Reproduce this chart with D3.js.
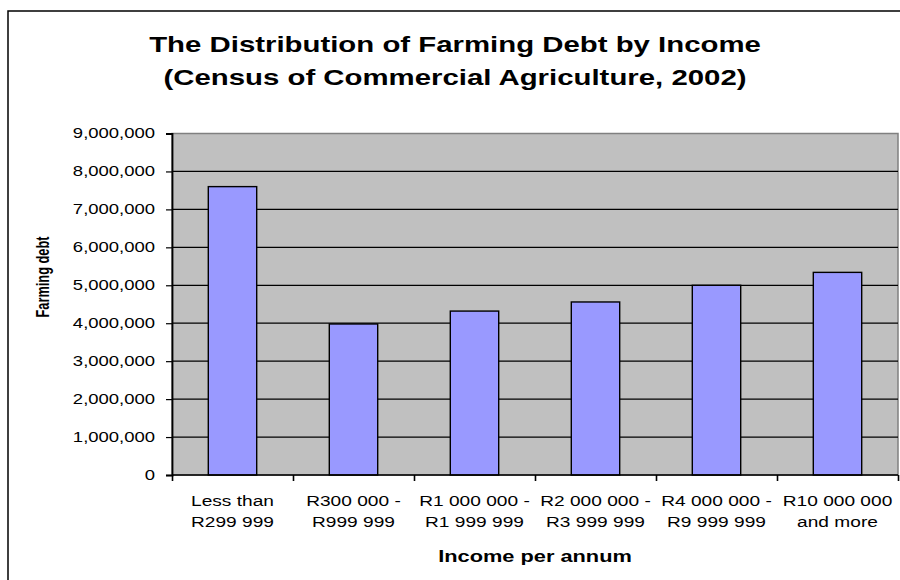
<!DOCTYPE html>
<html>
<head>
<meta charset="utf-8">
<script src="https://cdn.jsdelivr.net/npm/d3@7"></script>
<style>
  body { margin: 0; background: #fff; }
  svg { display: block; font-family: "Liberation Sans", Arial, sans-serif; }
</style>
</head>
<body>
<div id="chart"></div>
<script>
// data
const categories = [
  ["Less than", "R299 999"],
  ["R300 000 -", "R999 999"],
  ["R1 000 000 -", "R1 999 999"],
  ["R2 000 000 -", "R3 999 999"],
  ["R4 000 000 -", "R9 999 999"],
  ["R10 000 000", "and more"]
];
const debt = [7600000, 3980000, 4320000, 4560000, 5000000, 5340000];
const yTicks = [0, 1000000, 2000000, 3000000, 4000000, 5000000, 6000000, 7000000, 8000000, 9000000];
const titleLines = ["The Distribution of Farming Debt by Income", "(Census of Commercial Agriculture, 2002)"];

const width = 900, height = 580;
const plot = { left: 172, top: 133.5, right: 898, bottom: 475 };
const innerW = plot.right - plot.left;
const innerH = plot.bottom - plot.top;
const sx = 1.32; // the source picture is squashed vertically, so text reads wide

const svg = d3.select("#chart").append("svg")
  .attr("width", width)
  .attr("height", height);

// outer chart frame (right/bottom edges fall outside the picture)
svg.append("rect")
  .attr("x", 8).attr("y", 11)
  .attr("width", 920).attr("height", 600)
  .attr("fill", "#fff")
  .attr("stroke", "#000")
  .attr("stroke-width", 1.5);

// title
svg.append("g").selectAll("text")
  .data(titleLines)
  .enter()
  .append("text")
  .attr("transform", (d, i) => `translate(455,${52 + i * 33}) scale(1.335,1)`)
  .attr("text-anchor", "middle")
  .attr("font-size", 22)
  .attr("font-weight", "bold")
  .text(d => d);

const g = svg.append("g")
  .attr("transform", `translate(${plot.left},${plot.top})`);

const x = d3.scaleBand()
  .domain(d3.range(categories.length))
  .range([0, innerW])
  .paddingInner(0.6)
  .paddingOuter(0.3);

const y = d3.scaleLinear()
  .domain([0, 9000000])
  .range([innerH, 0]);

// plot area
g.append("rect")
  .attr("width", innerW)
  .attr("height", innerH)
  .attr("fill", "#C0C0C0")
  .attr("stroke", "#808080")
  .attr("stroke-width", 1.5);

// gridlines
g.selectAll(".grid")
  .data(yTicks.filter(d => d > 0 && d < 9000000))
  .enter()
  .append("line")
  .attr("x1", 0).attr("x2", innerW)
  .attr("y1", d => y(d)).attr("y2", d => y(d))
  .attr("stroke", "#000")
  .attr("stroke-width", 1.2);

// bars
g.selectAll(".bar")
  .data(debt)
  .enter()
  .append("rect")
  .attr("x", (d, i) => x(i))
  .attr("y", d => y(d))
  .attr("width", x.bandwidth())
  .attr("height", d => innerH - y(d))
  .attr("fill", "#9999FF")
  .attr("stroke", "#000")
  .attr("stroke-width", 1.4);

// y axis
const yAxis = g.append("g")
  .call(d3.axisLeft(y).tickValues(yTicks).tickSize(6).tickPadding(11).tickFormat(d3.format(",")));
yAxis.select(".domain").attr("stroke", "#000").attr("stroke-width", 1.8);
yAxis.selectAll(".tick line").attr("stroke", "#000").attr("stroke-width", 1.2);
yAxis.selectAll("text")
  .attr("x", -17 / sx)
  .attr("transform", `scale(${sx},1)`)
  .attr("font-size", 14)
  .attr("font-family", "Liberation Sans, Arial, sans-serif")
  .attr("fill", "#000");

// x axis: ticks at category boundaries
const xEdge = d3.scaleLinear().domain([0, categories.length]).range([0, innerW]);
const xAxis = g.append("g")
  .attr("transform", `translate(0,${innerH})`)
  .call(d3.axisBottom(xEdge).tickValues(d3.range(categories.length + 1)).tickSize(6).tickFormat(""));
xAxis.select(".domain").attr("stroke", "#000").attr("stroke-width", 1.5).attr("d", `M0,0H${innerW}`);
xAxis.selectAll(".tick line").attr("stroke", "#000").attr("stroke-width", 1.6);

// category labels
const labels = g.append("g").selectAll("text")
  .data(categories)
  .enter()
  .append("text")
  .attr("transform", (d, i) => `translate(${x(i) + x.bandwidth() / 2},${innerH + 31}) scale(${sx},1)`)
  .attr("text-anchor", "middle")
  .attr("font-size", 14.5);
labels.selectAll("tspan")
  .data(d => d)
  .enter()
  .append("tspan")
  .attr("x", 0)
  .attr("dy", (d, i) => i === 0 ? 0 : 21)
  .text(d => d);

// axis titles
svg.append("text")
  .attr("transform", `translate(535,562) scale(${sx},1)`)
  .attr("text-anchor", "middle")
  .attr("font-size", 16.5)
  .attr("font-weight", "bold")
  .text("Income per annum");

svg.append("text")
  .attr("transform", "translate(49,277) scale(1,0.71) rotate(-90)")
  .attr("text-anchor", "middle")
  .attr("font-size", 18)
  .attr("font-weight", "bold")
  .text("Farming debt");
</script>
</body>
</html>
